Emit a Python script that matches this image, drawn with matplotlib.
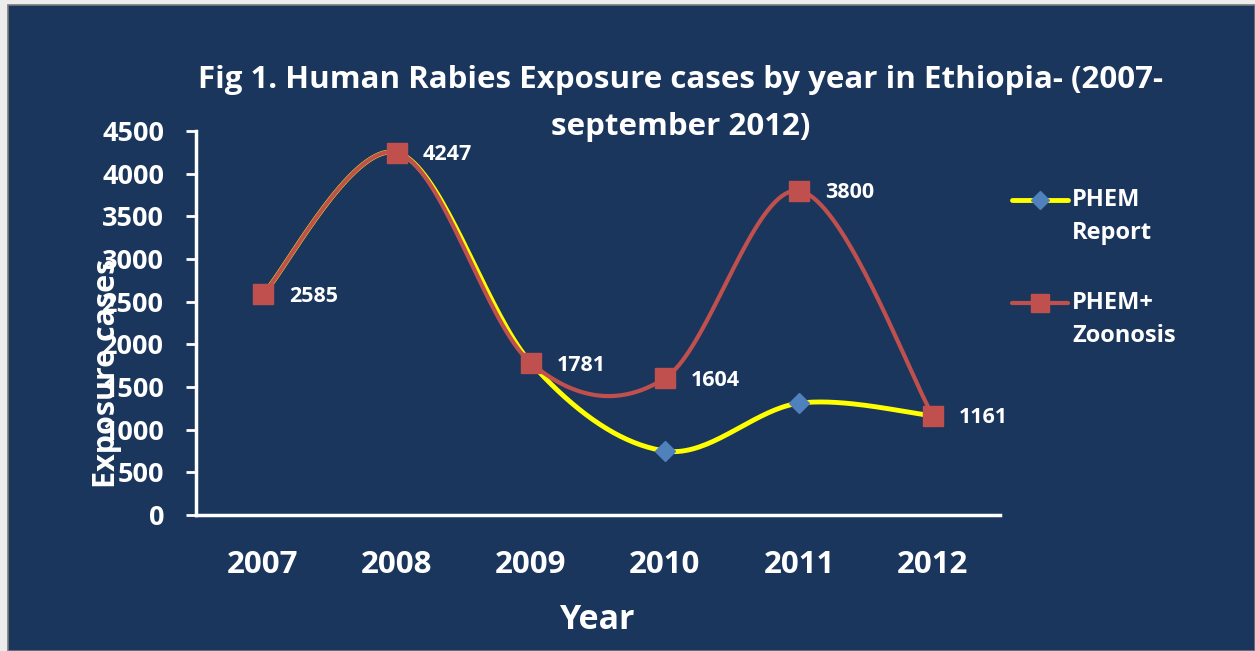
import numpy as np
import matplotlib
matplotlib.use('Agg')
from matplotlib import pyplot as plt
from matplotlib.patches import Rectangle
from matplotlib.lines import Line2D

years = ['2007', '2008', '2009', '2010', '2011', '2012']
phem_report = [2585, 4247, 1781, 750, 1310, 1161]
phem_zoonosis = [2585, 4247, 1781, 1604, 3800, 1161]
y_ticks = [0, 500, 1000, 1500, 2000, 2500, 3000, 3500, 4000, 4500]
legend_labels = [('PHEM', 'Report'), ('PHEM+', 'Zoonosis')]

navy = '#1a365d'
yellow = '#ffff00'
blue = '#4f81bd'
red = '#c0504d'
plt.rcParams['font.family'] = ['Open Sans', 'DejaVu Sans']


def smooth(xs, ys, n=40):
    # bezier curve through points, like excel's smoothed line (catmull-rom)
    p = np.column_stack([xs, ys]).astype(float)
    p = np.vstack([p[0], p, p[-1]])
    out = []
    t = np.linspace(0, 1, n)[:, None]
    for i in range(1, len(p) - 2):
        p0, p3 = p[i], p[i + 1]
        b1 = p0 + (p[i + 1] - p[i - 1]) / 6
        b2 = p3 - (p[i + 2] - p[i]) / 6
        seg = (1 - t) ** 3 * p0 + 3 * (1 - t) ** 2 * t * b1 + 3 * (1 - t) * t ** 2 * b2 + t ** 3 * p3
        out.append(seg if i == 1 else seg[1:])
    out = np.vstack(out)
    return out[:, 0], out[:, 1]


W, H = 1255, 651
fig = plt.figure(figsize=(W / 100, H / 100), dpi=100, facecolor='#ececec')
fig.patches.append(Rectangle((8 / W, 0), 1 - 8 / W, 1 - 5 / H, transform=fig.transFigure,
                             facecolor=navy, edgecolor='#7a7a7a', linewidth=1.2, zorder=-1))

ax = fig.add_axes([196 / W, 1 - 515 / H, 804 / W, 384 / H])
ax.set_facecolor('none')

x = np.arange(len(years))
sx, sy = smooth(x, phem_report)
ax.plot(sx, sy, color=yellow, lw=3.5, zorder=2)
ax.plot(x, phem_report, ls='none', marker='D', ms=10.5, color=blue, zorder=3)
rx, ry = smooth(x, phem_zoonosis)
ax.plot(rx, ry, color=red, lw=3, zorder=4)
ax.plot(x, phem_zoonosis, ls='none', marker='s', ms=14, color=red, zorder=5)

for xi, v in zip(x, phem_zoonosis):
    ax.annotate(str(v), (xi, v), xytext=(26, -2), textcoords='offset pixels',
                ha='left', va='center', color='white', fontsize=15.5, fontweight='bold')

ax.set_xlim(-0.5, 5.5)
ax.set_ylim(0, 4500)
ax.set_xticks(x)
ax.set_xticklabels(years)
ax.set_yticks(y_ticks)
ax.tick_params(axis='x', length=0, pad=25, labelsize=22.5, labelcolor='white')
ax.tick_params(axis='y', length=7, width=2, color='white', pad=16, labelsize=19.5, labelcolor='white')
for lab in ax.get_xticklabels() + ax.get_yticklabels():
    lab.set_fontweight('bold')
for s in ['top', 'right']:
    ax.spines[s].set_visible(False)
for s in ['left', 'bottom']:
    ax.spines[s].set_color('white')
    ax.spines[s].set_linewidth(2.5)

fig.text(107 / W, 1 - 373 / H, 'Exposure cases', rotation=90, ha='center', va='center',
         color='white', fontsize=22, fontweight='bold')
fig.text(597 / W, 1 - 620 / H, 'Year', ha='center', va='center',
         color='white', fontsize=24.5, fontweight='bold')
fig.text(681 / W, 1 - 80 / H, 'Fig 1. Human Rabies Exposure cases by year in Ethiopia- (2007-',
         ha='center', va='center', color='white', fontsize=22.5, fontweight='bold')
fig.text(681 / W, 1 - 127 / H, 'september 2012)',
         ha='center', va='center', color='white', fontsize=22.5, fontweight='bold')

# legend drawn by hand so the marker sits on the first text line, as in the original
styles = [dict(color=yellow, lw=3.5, marker='D', ms=9.5, mfc=blue),
          dict(color=red, lw=3, marker='s', ms=13, mfc=red)]
for (l1, l2), st, ly in zip(legend_labels, styles, [200, 303]):
    fig.lines.append(Line2D([1012 / W, 1068 / W], [1 - ly / H] * 2, transform=fig.transFigure,
                            color=st['color'], lw=st['lw'], solid_capstyle='round'))
    fig.lines.append(Line2D([1040 / W], [1 - ly / H], transform=fig.transFigure,
                            ls='none', marker=st['marker'], ms=st['ms'], color=st['mfc']))
    fig.text(1072 / W, 1 - ly / H, l1, ha='left', va='center', color='white',
             fontsize=17, fontweight='bold')
    fig.text(1072 / W, 1 - (ly + 33) / H, l2, ha='left', va='center', color='white',
             fontsize=17, fontweight='bold')

fig.savefig('out.png', dpi=100, facecolor=fig.get_facecolor())
